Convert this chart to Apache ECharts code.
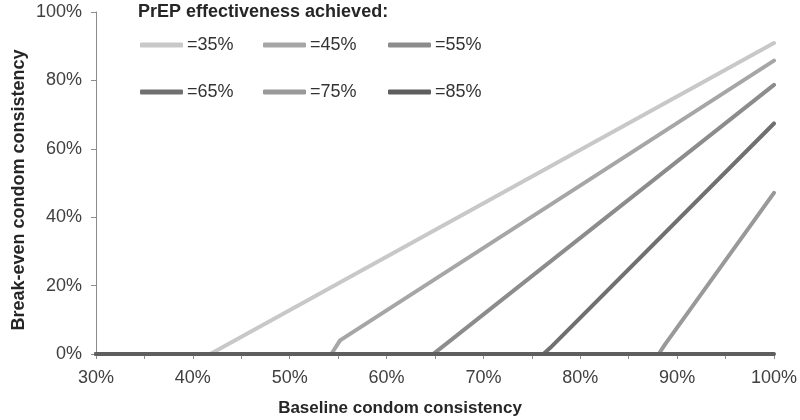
<!DOCTYPE html>
<html>
<head>
<meta charset="utf-8">
<script src="https://cdn.jsdelivr.net/npm/echarts@6/dist/echarts.min.js"></script>
<style>html,body{margin:0;padding:0;background:#fff}#c{width:800px;height:420px}</style>
</head>
<body>
<div id="c"></div>
<script>
// Series labels
var seriesNames = ['=35%', '=45%', '=55%', '=65%', '=75%', '=85%'];
// Baseline condom consistency (%) and break-even consistency (%) per series
var x35 = [30, 41.8, 100];
var y35 = [0, 0, 90.9];
var x45 = [30, 54.3, 55.2, 100];
var y45 = [0, 0, 4, 85.8];
var x55 = [30, 64.8, 65.5, 100];
var y55 = [0, 0, 1.5, 78.7];
var x65 = [30, 76.2, 76.9, 100];
var y65 = [0, 0, 1.8, 67.4];
var x75 = [30, 88.1, 88.7, 100];
var y75 = [0, 0, 2.6, 47.1];
var x85 = [30, 100];
var y85 = [0, 0];
// Axis tick values
var xTicks = [30, 40, 50, 60, 70, 80, 90, 100];
var yTicks = [0, 20, 40, 60, 80, 100];

var xs = [x35, x45, x55, x65, x75, x85];
var ys = [y35, y45, y55, y65, y75, y85];
var colors = ['#c8c8c8', '#a6a6a6', '#8c8c8c', '#707070', '#999999', '#5e5e5e'];

function pairs(a, b) { return a.map(function (v, i) { return [v, b[i]]; }); }

var FONT = '"Liberation Sans", Arial, sans-serif';

var series = seriesNames.map(function (n, i) {
  return {
    name: n, type: 'line', data: pairs(xs[i], ys[i]), showSymbol: false, symbol: 'none',
    lineStyle: { width: 4, color: colors[i], cap: 'round', join: 'round' },
    itemStyle: { color: colors[i] }, animation: false, z: 2 + i
  };
});

var legendPos = [[140, 36], [263, 36], [388, 36], [140, 83], [263, 83], [388, 83]];
var legends = seriesNames.map(function (n, i) {
  return {
    data: [n], left: legendPos[i][0], top: legendPos[i][1], padding: 0,
    icon: 'roundRect', itemWidth: 43, itemHeight: 5, itemGap: 0, selectedMode: false,
    textStyle: { fontFamily: FONT, fontSize: 18, color: '#333', padding: [0, 0, 0, -1] }
  };
});

var chart = echarts.init(document.getElementById('c'), null, { renderer: 'canvas' });
chart.setOption({
  backgroundColor: '#fff',
  animation: false,
  grid: { left: 96, right: 24, top: 12, bottom: 66, containLabel: false },
  legend: legends,
  xAxis: {
    type: 'value', min: xTicks[0], max: xTicks[xTicks.length - 1], interval: 10,
    axisLine: { show: true, lineStyle: { color: '#8c8c8c', width: 1 } },
    axisTick: { show: true, length: 5, lineStyle: { color: '#8c8c8c' } },
    minorTick: { show: true, splitNumber: 2, length: 5, lineStyle: { color: '#8c8c8c' } },
    splitLine: { show: false },
    axisLabel: { fontFamily: FONT, fontSize: 18, color: '#404040', margin: 15,
      formatter: function (v) { return v + '%'; } }
  },
  yAxis: {
    type: 'value', min: yTicks[0], max: yTicks[yTicks.length - 1], interval: 20,
    axisLine: { show: true, lineStyle: { color: '#8c8c8c', width: 1 } },
    axisTick: { show: true, length: 5, lineStyle: { color: '#8c8c8c' } },
    splitLine: { show: false },
    axisLabel: { fontFamily: FONT, fontSize: 18, color: '#404040', margin: 14,
      formatter: function (v) { return v + '%'; } }
  },
  graphic: [
    { type: 'text', left: 138, top: 3, style: { text: 'PrEP effectiveness achieved:', font: 'bold 18px ' + FONT, fill: '#262626' } },
    { type: 'text', x: 400, y: 408, style: { text: 'Baseline condom consistency', font: 'bold 17px ' + FONT, fill: '#262626', textAlign: 'center', textVerticalAlign: 'middle' } },
    { type: 'text', x: 19, y: 190, rotation: Math.PI / 2, style: { text: 'Break-even condom consistency', font: 'bold 18px ' + FONT, fill: '#262626', textAlign: 'center', textVerticalAlign: 'middle' } }
  ],
  series: series
});
</script>
</body>
</html>
